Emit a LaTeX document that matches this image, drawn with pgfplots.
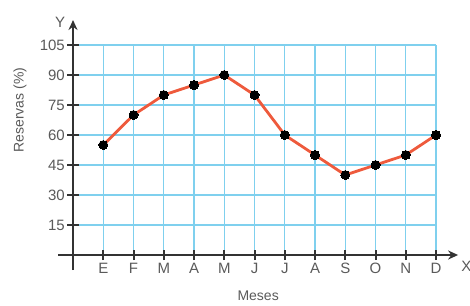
\documentclass[border=0pt]{standalone}
\usepackage{pgfplots}
\pgfplotsset{compat=1.18}
\usepackage{fontspec}
\setmainfont{Liberation Sans}
\usetikzlibrary{arrows.meta}
\definecolor{gridc}{HTML}{7FD0EE}
\definecolor{linec}{HTML}{EE5A3C}
\definecolor{axiscol}{HTML}{333333}
\definecolor{txt}{HTML}{5A5A5A}
\begin{document}
\begin{tikzpicture}
\path[use as bounding box] (-58.2pt,-35pt) rectangle (411.8pt,270pt);
\begin{axis}[
  anchor=south west, at={(0pt,0pt)},
  x=30.25pt, y=2pt,
  xmin=-0.49, xmax=12.73, ymin=-7.5, ymax=117.5,
  axis lines=none,
  clip=false,
  xtick=\empty, ytick=\empty,
]
% grid
\foreach \i in {1,...,12} {
  \edef\temp{\noexpand\draw[gridc, line width=1.4pt] (axis cs:\i,0) -- (axis cs:\i,105);}
  \temp
}
\foreach \j in {15,30,...,105} {
  \edef\temp{\noexpand\draw[gridc, line width=1.4pt] (axis cs:0,\j) -- (axis cs:12,\j);}
  \temp
}
% axes
\draw[color=axiscol, line width=2pt, -{Stealth[length=10pt,width=9pt]}] (axis cs:-0.49,0) -- (axis cs:12.73,0);
\draw[color=axiscol, line width=2pt, -{Stealth[length=10pt,width=9pt]}] (axis cs:0,-7.5) -- (axis cs:0,117.5);
% ticks and tick labels
\foreach \i/\l in {1/E,2/F,3/M,4/A,5/M,6/J,7/J,8/A,9/S,10/O,11/N,12/D} {
  \edef\temp{\noexpand\draw[color=axiscol, line width=2pt] ([yshift=-5pt]axis cs:\i,0) -- ([yshift=5pt]axis cs:\i,0);
  \noexpand\node[anchor=base, yshift=-18pt, inner sep=0pt, text=txt, font=\noexpand\fontsize{15}{17}\noexpand\selectfont] at (axis cs:\i,0) {\l};}
  \temp
}
\foreach \j in {15,30,...,105} {
  \edef\temp{\noexpand\draw[color=axiscol, line width=2pt] ([xshift=6pt]axis cs:0,\j) -- ([xshift=-6pt]axis cs:0,\j);
  \noexpand\node[anchor=east, xshift=-8pt, inner sep=0pt, text=txt, font=\noexpand\fontsize{15}{17}\noexpand\selectfont] at (axis cs:0,\j) {\j};}
  \temp
}
\addplot[linec, line width=2.8pt, mark=*, mark size=4.5pt, mark options={fill=black, draw=black, line width=0pt}]
coordinates {(1,55) (2,70) (3,80) (4,85) (5,90) (6,80) (7,60) (8,50) (9,40) (10,45) (11,50) (12,60)};
\node[text=txt, font=\fontsize{15}{17}\selectfont] at (axis cs:-0.43,116.5) {Y};
\node[text=txt, font=\fontsize{15}{17}\selectfont] at (axis cs:13.0,-5.5) {X};
\node[text=txt, font=\fontsize{14}{16}\selectfont] at (axis cs:6.12,-20.5) {Meses};
\node[text=txt, font=\fontsize{14}{16}\selectfont, rotate=90] at (axis cs:-1.75,72.5) {Reservas (\%)};
\end{axis}
\end{tikzpicture}
\end{document}
